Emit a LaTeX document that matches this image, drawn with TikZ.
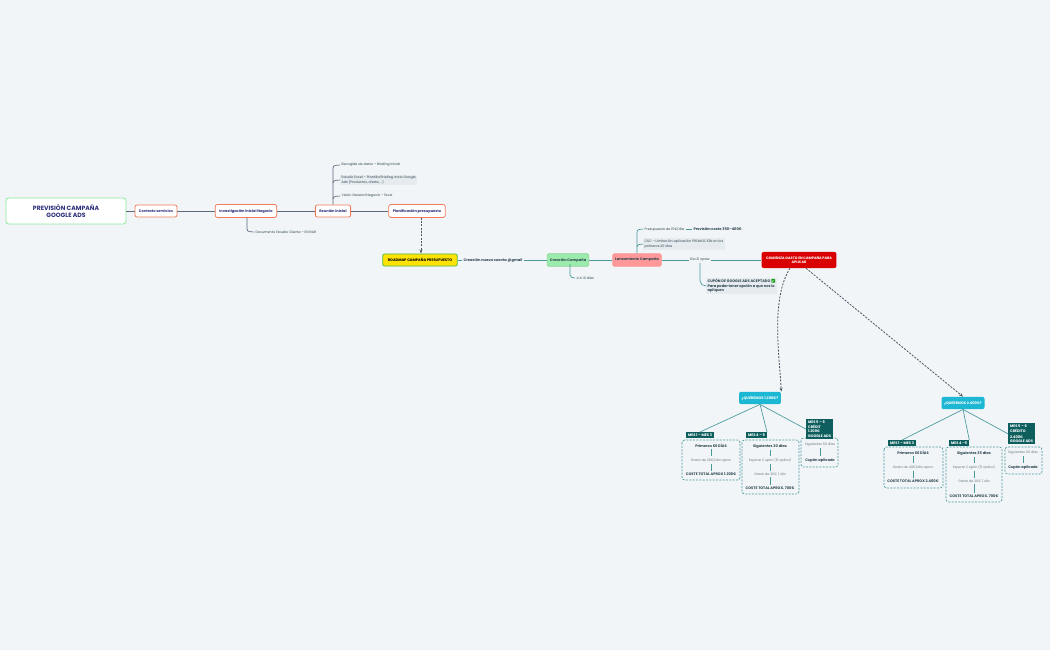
\documentclass[tikz,border=0pt]{standalone}
\usepackage{fontspec}
\setmainfont{Poppins}
\newfontfamily\emo{Noto Emoji}
\usetikzlibrary{arrows.meta,positioning}
\definecolor{bg}{HTML}{F1F5F8}
\definecolor{navy}{HTML}{2B2F7A}
\definecolor{orng}{HTML}{F07A5A}
\definecolor{lgray}{HTML}{5E6A7E}
\definecolor{teal}{HTML}{4A9A9C}
\definecolor{dteal}{HTML}{0E5E5E}
\definecolor{cyanb}{HTML}{1BB7D3}
\definecolor{txt}{HTML}{2E4650}
\definecolor{leafbg}{HTML}{E6EBEF}
\tikzset{
  fs/.style={font=\fontsize{2.5}{3.3}\selectfont},
  fsb/.style={font=\fontsize{2.7}{3.4}\selectfont\bfseries},
  topic/.style={draw=orng,line width=0.6pt,fill=white,rounded corners=1.5pt,minimum height=9pt,inner xsep=3pt,fsb,text=navy},
  leaf/.style={fs,text=txt,anchor=west,inner sep=1pt,align=left},
  leafbold/.style={fsb,text=txt,anchor=west,inner sep=1pt,align=left},
  lk/.style={draw=lgray,line width=0.5pt},
  tk/.style={draw=teal,line width=0.5pt},
  tab/.style={fill=dteal,text=white,fsb,inner sep=1.3pt,align=left,anchor=north west},
  dbox/.style={draw=teal,dash pattern=on 1.5pt off 1pt,rounded corners=2pt,line width=0.5pt},
  bt/.style={fsb,text=txt,inner sep=1pt},
  nt/.style={fs,text=txt!70,inner sep=1pt},
  darr/.style={draw=lgray!80!black,dash pattern=on 1.5pt off 1pt,line width=0.6pt,-{Stealth[length=3pt]}}
}
\begin{document}
\begin{tikzpicture}[x=0.75pt,y=-0.75pt]
\useasboundingbox[fill=bg] (0,0) rectangle (1050,650);
\node[draw=green!60!teal!50,line width=0.7pt,fill=white,rounded corners=2pt,minimum width=90pt,minimum height=19.5pt,align=center,text=navy,font=\fontsize{4.6}{5.6}\selectfont\bfseries] (title) at (66,211) {PREVISIÓN CAMPAÑA\\GOOGLE ADS};
\node[topic] (contrato) at (156,211) {Contrato servicios};
\node[topic] (invest) at (246,211) {Investigación Inicial Negocio};
\node[topic] (reunion) at (333,211) {Reunión Inicial};
\node[topic] (planif) at (417,211) {Planificación presupuesto};
\draw[lk] (title) -- (contrato); \draw[lk] (contrato) -- (invest);
\draw[lk] (invest) -- (reunion); \draw[lk] (reunion) -- (planif);
\node[leaf] (r1) at (340,165) {Recogida de datos – Briefing Inicial};
\node[leaf,fill=leafbg] (r2) at (340,180) {Estudio Excel – Plantilla Briefing Inicio Google\\Ads (Productos, oferta, ...)};
\node[leaf] (r3) at (340,196) {Visión General Negocio – Excel};
\draw[lk] (reunion.north) -- (333,168) to[out=90,in=180] (r1.west);
\draw[lk] (333,183) to[out=90,in=180] (r2.west);
\draw[lk] (333,199) to[out=90,in=180] (r3.west);
\node[leaf] (i1) at (254,232) {Documento Estudio Cliente – ENVIAR};
\draw[lk] (invest.south -| 247,0) -- (247,229) to[out=-90,in=180] (i1.west);
\node[draw=green!60!black!70,line width=0.6pt,fill=yellow!85!orange,rounded corners=1.5pt,minimum height=9pt,minimum width=56pt,inner xsep=2pt,fsb,text=black] (road) at (420,260) {ROADMAP CAMPAÑA PRESUPUESTO};
\draw[darr] (planif.south -| 421,0) -- (road.north -| 421,0);
\node[fsb,text=txt,inner sep=1pt] (gmail) at (493,260) {Creación nueva cuenta @gmail};
\node[fill=green!55!teal!45,draw=green!50!black!40,rounded corners=1.5pt,minimum height=7pt,fsb,text=txt,inner xsep=2pt] (crea) at (568,260) {Creación Campaña};
\node[fill=red!40,draw=red!40,rounded corners=1.5pt,minimum height=7pt,fsb,text=txt,inner xsep=2pt] (lanz) at (637,260) {Lanzamiento Campaña};
\node[fs,text=txt,inner sep=1pt] (dia) at (700,260) {Día 21 aprox};
\node[fill=red!85!black,rounded corners=1.5pt,minimum width=52pt,minimum height=9pt,text=white,align=center,font=\fontsize{2.6}{3}\selectfont\bfseries] (gasto) at (799,260) {COMIENZA GASTO EN CAMPAÑA PARA\\APLICAR};
\draw[tk] (road) -- (gmail) -- (crea) -- (lanz) -- (dia) -- (gasto);
\node[leaf] (c1) at (575,278) {4 A 10 días};
\draw[tk] (570,264) -- (570,275) to[out=-90,in=180] (c1.west);
\node[leaf] (l1) at (643,229) {Presupuesto de 15€/día};
\node[leafbold] (l1b) at (692,229) {Previsión coste 350–400€};
\draw[tk] (l1.east) -- (l1b.west);
\node[leaf,fill=leafbg] (l2) at (643,244) {CSC – Limitación aplicación PROMOCIÓN en los\\primeros 20 días};
\draw[tk] (lanz.north -| 637,0) -- (637,232) to[out=90,in=180] (l1.west);
\draw[tk] (637,247) to[out=90,in=180] (l2.west);
\node[leafbold,fill=leafbg] (cup) at (706,286) {CUPÓN DE GOOGLE ADS ACEPTADO {\emo\textcolor{green!60!black}{✅}}\\Para poder tener opción a que nos lo\\apliquen};
\draw[tk] (700,263) -- (700,281) to[out=-90,in=180] (cup.west);
\node[fill=cyanb,rounded corners=1.5pt,minimum height=8pt,fsb,text=white,inner xsep=2pt] (q1) at (760,398) {¿QUEREMOS 1.200€?};
\node[fill=cyanb,rounded corners=1.5pt,minimum height=8pt,fsb,text=white,inner xsep=2pt] (q2) at (963,403) {¿QUEREMOS 2.400€?};
\draw[darr] (gasto.south -| 790,0) .. controls (770,300) and (780,360) .. (q1.north east);
\draw[darr] (gasto.south -| 806,0) -- (q2.north);
\draw[dbox] (682,440) rectangle (740,480);
\node[tab] (t11) at (686,432) {MES 1 – MES 3};
\node[bt] (a1) at (711,446) {Primeros 60 DÍAS};
\node[nt] (a2) at (711,460) {Gasto de 20€/día aprox};
\node[bt] (a3) at (711,474) {COSTE TOTAL APROX 1.200€};
\draw[tk] (a1)--(a2)--(a3);
\draw[dbox] (742,440) rectangle (799,494);
\node[tab] (t12) at (746,432) {MES 4 – 5};
\node[bt] (b1) at (770,446) {Siguientes 30 días};
\node[nt] (b2) at (770,460) {Esperar Cupón (El aplica)};
\node[nt] (b3) at (770,474) {Gasto de 20€ / día};
\node[bt] (b4) at (770,488) {COSTE TOTAL APROX. 700€};
\draw[tk] (b1)--(b2)--(b3)--(b4);
\draw[dbox] (801,438) rectangle (838,467);
\node[tab] (t13) at (806,419) {MES 5 – 6\\CRÉDIT\\1.200€\\GOOGLE ADS};
\node[nt] (c1b) at (820,445) {Siguientes 60 días};
\node[bt] (c2b) at (820,460) {Cupón aplicado};
\draw[tk] (c1b)--(c2b);
\draw[tk] (q1.south) -- (t11.north);
\draw[tk] (q1.south) -- (t12.north east);
\draw[tk] (q1.south) -- (t13.west);
\draw[dbox] (884,447) rectangle (943,488);
\node[tab] (t21) at (888,440) {MES 1 – MES 3};
\node[bt] (d1) at (913,453) {Primeros 60 DÍAS};
\node[nt] (d2) at (913,467) {Gasto de 40€/día aprox};
\node[bt] (d3) at (913,481) {COSTE TOTAL APROX 2.400€};
\draw[tk] (d1)--(d2)--(d3);
\draw[dbox] (946,447) rectangle (1002,502);
\node[tab] (t22) at (949,440) {MES 4 –5};
\node[bt] (e1) at (974,453) {Siguientes 35 días};
\node[nt] (e2) at (974,467) {Esperar Cupón (El aplica)};
\node[nt] (e3) at (974,481) {Gasto de 20€ / día};
\node[bt] (e4) at (974,496) {COSTE TOTAL APROX. 700€};
\draw[tk] (e1)--(e2)--(e3)--(e4);
\draw[dbox] (1005,447) rectangle (1042,474);
\node[tab] (t23) at (1008,423) {MES 5 – 6\\CRÉDITO\\[1pt]2.400€\\GOOGLE ADS};
\node[nt] (f1) at (1023,453) {Siguientes 60 días};
\node[bt] (f2) at (1023,467) {Cupón aplicado};
\draw[tk] (f1)--(f2);
\draw[tk] (q2.south) -- (t21.north);
\draw[tk] (q2.south) -- (t22.north east);
\draw[tk] (q2.south) -- (t23.west);
\end{tikzpicture}
\end{document}
